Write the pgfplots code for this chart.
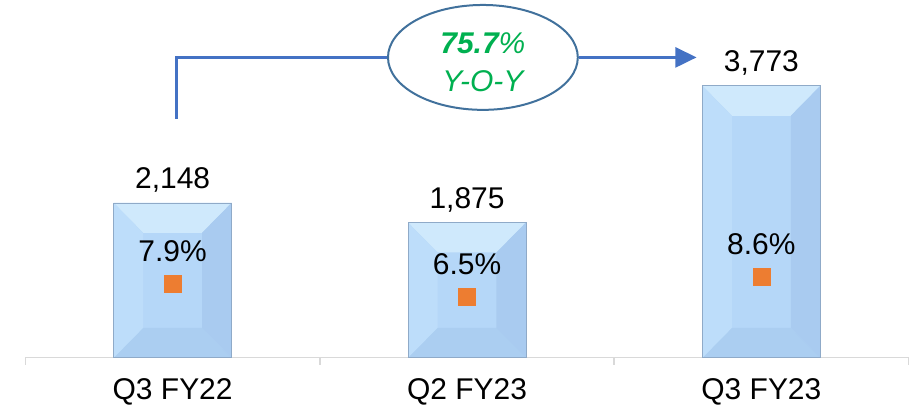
\documentclass[border=0pt]{standalone}
\usepackage{pgfplots}
\pgfplotsset{compat=1.18}
\usepackage{fontspec}
\setmainfont{Liberation Sans}
\usetikzlibrary{arrows.meta,shapes.geometric}

\definecolor{barc}{HTML}{B5D7F8}
\definecolor{bartop}{HTML}{CFE9FC}
\definecolor{barleft}{HTML}{BDDDFA}
\definecolor{barright}{HTML}{A9CBF0}
\definecolor{barbot}{HTML}{ABCEF1}
\definecolor{barline}{HTML}{8FAAC8}
\definecolor{orangec}{HTML}{ED7D31}
\definecolor{axisgray}{HTML}{D9D9D9}
\definecolor{arrowc}{HTML}{4472C4}
\definecolor{ellc}{HTML}{41719C}
\definecolor{greenc}{HTML}{00B050}

\newcommand{\lbl}{\fontsize{22.5}{27}\selectfont}

\begin{document}
\begin{tikzpicture}
\pgfplotsset{/pgf/number format/assume math mode=true}
\begin{axis}[
  scale only axis, width=663pt, height=268.5pt,
  xmin=-0.5, xmax=2.5, ymin=0, ymax=4965,
  axis x line*=bottom, axis y line=none, ytick=\empty,
  x axis line style={draw=axisgray, line width=1.1pt, -},
  xtick={0,1,2}, xticklabels={Q3 FY22,Q2 FY23,Q3 FY23},
  major tick length=0pt,
  extra x ticks={-0.5,0.5,1.5,2.5}, extra x tick labels={},
  extra x tick style={major tick length=5.25pt, tick align=outside,
     tick style={draw=axisgray, line width=1.1pt}},
  xticklabel style={anchor=base, yshift=-31.5pt, font=\lbl},
  clip=false,
]
% bars (main fill) with value labels
\addplot[ybar, bar width=88.5pt, bar shift=0pt, fill=barc, draw=none,
  nodes near coords={\pgfmathprintnumber[1000 sep={,}]{\pgfplotspointmeta}},
  every node near coord/.append style={anchor=base, yshift=10.5pt, font=\lbl, text=black}]
  coordinates {(0,2148) (1,1875) (2,3773)};
% bevel facets
\addplot[fill=bartop, draw=none] coordinates {(-0.2,2148)(0.2,2148)(0.1,1733)(-0.1,1733)};
\addplot[fill=barbot, draw=none] coordinates {(-0.2,0)(0.2,0)(0.1,415)(-0.1,415)};
\addplot[fill=barleft, draw=none] coordinates {(-0.2,2148)(-0.1,1733)(-0.1,415)(-0.2,0)};
\addplot[fill=barright, draw=none] coordinates {(0.2,2148)(0.1,1733)(0.1,415)(0.2,0)};
\addplot[fill=bartop, draw=none] coordinates {(0.8,1875)(1.2,1875)(1.1,1460)(0.9,1460)};
\addplot[fill=barbot, draw=none] coordinates {(0.8,0)(1.2,0)(1.1,415)(0.9,415)};
\addplot[fill=barleft, draw=none] coordinates {(0.8,1875)(0.9,1460)(0.9,415)(0.8,0)};
\addplot[fill=barright, draw=none] coordinates {(1.2,1875)(1.1,1460)(1.1,415)(1.2,0)};
\addplot[fill=bartop, draw=none] coordinates {(1.8,3773)(2.2,3773)(2.1,3358)(1.9,3358)};
\addplot[fill=barbot, draw=none] coordinates {(1.8,0)(2.2,0)(2.1,415)(1.9,415)};
\addplot[fill=barleft, draw=none] coordinates {(1.8,3773)(1.9,3358)(1.9,415)(1.8,0)};
\addplot[fill=barright, draw=none] coordinates {(2.2,3773)(2.1,3358)(2.1,415)(2.2,0)};
% bar outlines
\addplot[ybar, bar width=88.5pt, bar shift=0pt, fill=none, draw=barline, line width=0.6pt]
  coordinates {(0,2148) (1,1875) (2,3773)};

\draw[arrowc, line width=2.25pt] (axis cs:0.0125,3315) -- (axis cs:0.0125,4168) -- (axis cs:0.9,4168);
\node[ellipse, draw=ellc, line width=1.5pt, fill=white, minimum width=142.5pt, minimum height=78.75pt, inner sep=0pt] (yoy) at (axis cs:1.054,4168) {};
\node[text=greenc, align=center, font=\fontsize{22.5}{29}\selectfont\itshape, yshift=-3.5pt] at (yoy.center) {{\bfseries 75.7}\%\\Y-O-Y};
\draw[arrowc, line width=2.25pt, -{Triangle[length=16pt,width=15pt]}] (yoy.east) -- (axis cs:1.78,4168);
\end{axis}

\begin{axis}[
  scale only axis, width=663pt, height=268.5pt,
  xmin=-0.5, xmax=2.5, ymin=0, ymax=38.2,
  axis lines=none, clip=false,
]
\addplot[only marks, mark=square*, mark size=6.4pt, color=orangec, mark options={fill=orangec, draw=none},
  nodes near coords={\pgfmathprintnumber[fixed,fixed zerofill,precision=1]{\pgfplotspointmeta}\%},
  every node near coord/.append style={anchor=base, yshift=17pt, font=\lbl, text=black}]
  coordinates {(0,7.9) (1,6.5) (2,8.6)};
\path ([xshift=-19.1pt,yshift=-38.25pt]rel axis cs:0,0) rectangle ([xshift=2.6pt]rel axis cs:1,1);
\end{axis}
\end{tikzpicture}
\end{document}
